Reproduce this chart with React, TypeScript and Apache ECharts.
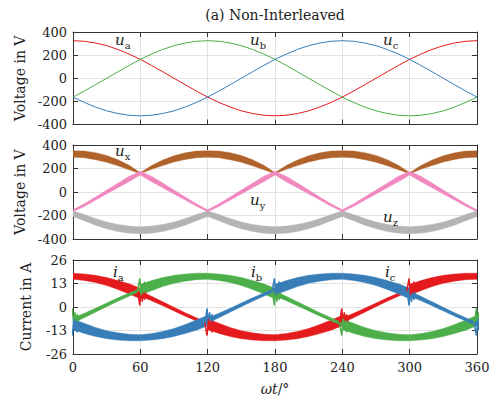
import React, { useEffect, useRef } from "react";
import * as echarts from "echarts";

// ---------- data ----------
const angles = [0,10,20,30,40,50,60,70,80,90,100,110,120,130,140,150,160,170,180,190,200,210,220,230,240,250,260,270,280,290,300,310,320,330,340,350,360];
const xTicks = [0, 60, 120, 180, 240, 300, 360];

// (top) phase voltages in V
const ua = [325,320,305,282,249,209,163,111,56,0,-56,-111,-163,-209,-249,-282,-305,-320,-325,-320,-305,-282,-249,-209,-163,-111,-56,0,56,111,163,209,249,282,305,320,325];
const ub = [-163,-111,-56,0,56,111,163,209,249,282,305,320,325,320,305,282,249,209,163,111,56,0,-56,-111,-163,-209,-249,-282,-305,-320,-325,-320,-305,-282,-249,-209,-163];
const uc = [-163,-209,-249,-282,-305,-320,-325,-320,-305,-282,-249,-209,-163,-111,-56,0,56,111,163,209,249,282,305,320,325,320,305,282,249,209,163,111,56,0,-56,-111,-163];

// (middle) switched voltages: band centre and half width in V
const uxCenter = [323,320,305,282,249,209,160,209,249,282,305,320,323,320,305,282,249,209,160,209,249,282,305,320,323,320,305,282,249,209,160,209,249,282,305,320,323];
const uxHalf = [28,29,30,29,26,19,4,16,24,27,28,28,28,29,30,29,26,19,4,16,24,27,28,28,28,29,30,29,26,19,4,16,24,27,28,28,28];
const uyCenter = [-160,-111,-56,0,56,111,160,111,56,0,-56,-111,-160,-111,-56,0,56,111,160,111,56,0,-56,-111,-160,-111,-56,0,56,111,160,111,56,0,-56,-111,-160];
const uyHalf = [8,12,14,16,19,23,16,24,20,16,13,11,8,12,14,16,19,23,16,24,20,16,13,11,8,12,14,16,19,23,16,24,20,16,13,11,8];
const uzCenter = [-185,-218,-254,-284,-306,-320,-326,-320,-306,-284,-254,-218,-185,-218,-254,-284,-306,-320,-326,-320,-306,-284,-254,-218,-185,-218,-254,-284,-306,-320,-326,-320,-306,-284,-254,-218,-185];
const uzHalf = [24,27,28,29,30,30,30,30,30,29,28,27,24,27,28,29,30,30,30,30,30,29,28,27,24,27,28,29,30,30,30,30,30,29,28,27,24];

// (bottom) phase currents in A: band centres
const iaCenter = [17.0,16.5,15.5,14.1,12.2,10.0,7.5,4.7,1.8,-1.2,-4.1,-6.9,-9.5,-11.8,-13.8,-15.3,-16.3,-16.9,-17.0,-16.5,-15.5,-14.1,-12.2,-10.0,-7.5,-4.7,-1.8,1.2,4.1,6.9,9.5,11.8,13.8,15.3,16.3,16.9,17.0];
const ibCenter = [-7.5,-4.7,-1.8,1.2,4.1,6.9,9.5,11.8,13.8,15.3,16.3,16.9,17.0,16.5,15.5,14.1,12.2,10.0,7.5,4.7,1.8,-1.2,-4.1,-6.9,-9.5,-11.8,-13.8,-15.3,-16.3,-16.9,-17.0,-16.5,-15.5,-14.1,-12.2,-10.0,-7.5];
const icCenter = [-9.5,-11.8,-13.8,-15.3,-16.3,-16.9,-17.0,-16.5,-15.5,-14.1,-12.2,-10.0,-7.5,-4.7,-1.8,1.2,4.1,6.9,9.5,11.8,13.8,15.3,16.3,16.9,17.0,16.5,15.5,14.1,12.2,10.0,7.5,4.7,1.8,-1.2,-4.1,-6.9,-9.5];
// half-width profiles across a 60° segment (A)
const thickIn = [2.9, 2.8, 2.5, 2.2, 2.0, 1.8, 1.7];
const thickOut = [1.7, 1.8, 2.0, 2.2, 2.5, 2.8, 2.9];
const thinBand = [1.4, 1.25, 1.1, 1.0, 0.95, 0.9, 0.85];
const iaLayout = ["out", "thin", "in", "out", "thin", "in"];
const ibLayout = ["thin", "in", "out", "thin", "in", "out"];
const icLayout = ["in", "out", "thin", "in", "out", "thin"];
// commutation transients
const crossAngles = [0, 60, 120, 180, 240, 300, 360];
const crossSigns = [-1, 1, -1, 1, -1, 1, -1];
const crossEnter = ["ic", "ib", "ia", "ic", "ib", "ia", "ic"];
const crossLeave = ["ib", "ia", "ic", "ib", "ia", "ic", "ib"];
const spikeDx = [-2.6, -0.5, 0.7, 1.7, 2.7, 3.7, 4.7, 5.7, 6.8];
const enterMag = [8.6, 15.8, 6.5, 13.0, 7.5, 14.0, 9.5, 13.5, 11.5];
const leaveMag = [9.4, 0.8, 9.8, 3.0, 9.0, 4.0, 8.0, 4.8, 6.5];

// ---------- styling ----------
const FONT = "DejaVu Serif";
const AXIS_COLOR = "#333";
const TEXT_COLOR = "#222";
const GRID_COLOR = "#e2e2e2";
const RED = "#e41a1c";
const GREEN = "#4daf4a";
const BLUE = "#377eb8";
const BROWN = "#b0622b";
const PINK = "#f088bf";
const GRAY = "#b4b4b6";
const phaseColor: Record<string, string> = { ia: RED, ib: GREEN, ic: BLUE };
const phaseCenter: Record<string, number[]> = { ia: iaCenter, ib: ibCenter, ic: icCenter };
const profiles: Record<string, number[]> = { in: thickIn, out: thickOut, thin: thinBand };

type Seg = { xs: number[]; c: number[]; h: number[]; color: string };

function bandSeries(segs: Seg[], axis: number) {
  return {
    type: "custom",
    xAxisIndex: axis,
    yAxisIndex: axis,
    clip: true,
    silent: true,
    z: 2,
    data: segs.map((s) => [s.xs[0], s.c[0]]),
    encode: { x: 0, y: 1 },
    renderItem: (params: any, api: any) => {
      const s = segs[params.dataIndex];
      const top: number[][] = [];
      const bot: number[][] = [];
      for (let k = 0; k < s.xs.length; k++) {
        top.push(api.coord([s.xs[k], s.c[k] + s.h[k]]));
        bot.push(api.coord([s.xs[k], s.c[k] - s.h[k]]));
      }
      bot.reverse();
      return {
        type: "polygon",
        shape: { points: top.concat(bot) },
        style: { fill: s.color, stroke: s.color, lineWidth: 0.4 },
      };
    },
  };
}

function currentSegs(phase: string, layout: string[]): Seg[] {
  return layout.map((p, j) => ({
    xs: angles.slice(6 * j, 6 * j + 7),
    c: phaseCenter[phase].slice(6 * j, 6 * j + 7),
    h: profiles[p],
    color: phaseColor[phase],
  }));
}

function lineSeries(values: number[], color: string, axis: number) {
  return {
    type: "line",
    xAxisIndex: axis,
    yAxisIndex: axis,
    data: angles.map((a, k) => [a, values[k]]),
    symbol: "none",
    lineStyle: { color, width: 1.0 },
    z: 3,
    silent: true,
  };
}

function transientSeries(): any[] {
  const out: any[] = [];
  crossAngles.forEach((c, i) => {
    const s = crossSigns[i];
    out.push({
      type: "line", xAxisIndex: 4, yAxisIndex: 4, symbol: "none", silent: true, z: 4, clip: true,
      data: spikeDx.map((d, k) => [c + d, s * leaveMag[k]]),
      lineStyle: { color: phaseColor[crossLeave[i]], width: 1.5 },
    });
    out.push({
      type: "line", xAxisIndex: 4, yAxisIndex: 4, symbol: "none", silent: true, z: 4, clip: true,
      data: spikeDx.map((d, k) => [c + d, s * enterMag[k]]),
      lineStyle: { color: phaseColor[crossEnter[i]], width: 1.5 },
    });
  });
  return out;
}

const gridTops = [32, 145, 260];
const gridHeights = [92.5, 94, 94];
const yRanges = [
  { min: -400, max: 400, interval: 200, name: "Voltage in V" },
  { min: -400, max: 400, interval: 200, name: "Voltage in V" },
  { min: -26, max: 26, interval: 13, name: "Current in A" },
];

function buildOption() {
  const grid: any[] = [];
  const xAxis: any[] = [];
  const yAxis: any[] = [];
  const lineStyle = { color: AXIS_COLOR, width: 1 };
  const tick = { show: true, inside: true, length: 5, lineStyle };
  for (let i = 0; i < 3; i++) {
    grid.push({ left: 73, right: 26, top: gridTops[i], height: gridHeights[i] });
    xAxis.push({
      type: "value", gridIndex: i, min: 0, max: 360, interval: 60,
      axisLine: { show: true, onZero: false, lineStyle },
      axisTick: tick,
      axisLabel: { show: i === 2, margin: 7, fontFamily: FONT, fontSize: 13, color: TEXT_COLOR,
        customValues: xTicks },
      splitLine: { show: true, lineStyle: { color: GRID_COLOR, width: 1 } },
    });
    xAxis.push({
      type: "value", gridIndex: i, position: "top", min: 0, max: 360, interval: 60,
      axisLine: { show: true, onZero: false, lineStyle },
      axisTick: tick, axisLabel: { show: false }, splitLine: { show: false },
    });
    const r = yRanges[i];
    yAxis.push({
      type: "value", gridIndex: i, min: r.min, max: r.max, interval: r.interval,
      axisLine: { show: true, onZero: false, lineStyle },
      axisTick: tick,
      axisLabel: { margin: 6, fontFamily: FONT, fontSize: 13, color: TEXT_COLOR },
      splitLine: { show: true, lineStyle: { color: GRID_COLOR, width: 1 } },
      name: r.name, nameLocation: "middle", nameGap: 40,
      nameTextStyle: { fontFamily: FONT, fontSize: 14, color: TEXT_COLOR },
    });
    yAxis.push({
      type: "value", gridIndex: i, position: "right", min: r.min, max: r.max, interval: r.interval,
      axisLine: { show: true, onZero: false, lineStyle },
      axisTick: tick, axisLabel: { show: false }, splitLine: { show: false },
    });
  }

  const voltageSegs: Seg[] = [
    { xs: angles, c: uxCenter, h: uxHalf, color: BROWN },
    { xs: angles, c: uzCenter, h: uzHalf, color: GRAY },
    { xs: angles, c: uyCenter, h: uyHalf, color: PINK },
  ];

  const series: any[] = [
    lineSeries(ua, RED, 0),
    lineSeries(ub, GREEN, 0),
    lineSeries(uc, BLUE, 0),
    bandSeries(voltageSegs, 2),
    bandSeries(currentSegs("ia", iaLayout), 4),
    bandSeries(currentSegs("ib", ibLayout), 4),
    bandSeries(currentSegs("ic", icLayout), 4),
    ...transientSeries(),
  ];

  const labelRich = {
    v: { fontFamily: FONT, fontStyle: "italic", fontSize: 15, lineHeight: 20, fill: TEXT_COLOR, color: TEXT_COLOR, verticalAlign: "middle" },
    s: { fontFamily: FONT, fontSize: 10, lineHeight: 12, fill: TEXT_COLOR, color: TEXT_COLOR, verticalAlign: "bottom" },
  };
  const label = (sym: string, sub: string, x: number, y: number) => ({
    type: "text", x, y, z: 10, silent: true,
    style: {
      text: `{v|${sym}}{s|${sub}}`, rich: labelRich,
      textAlign: "left", textVerticalAlign: "middle", align: "left", verticalAlign: "middle",
    },
  });

  const graphic: any[] = [
    {
      type: "text", x: 275, y: 15, silent: true,
      style: {
        text: "(a) Non-Interleaved", fontFamily: FONT, fontSize: 14, fill: TEXT_COLOR,
        textAlign: "center", textVerticalAlign: "middle", align: "center", verticalAlign: "middle",
      },
    },
    label("u", "a", 115, 40), label("u", "b", 250, 40), label("u", "c", 383, 40),
    label("u", "x", 115, 151), label("u", "y", 250, 200), label("u", "z", 383, 217),
    label("i", "a", 113, 272), label("i", "b", 251, 272), label("i", "c", 385, 272),
    {
      type: "text", x: 275, y: 389, silent: true,
      style: {
        text: "{i|ωt}{n|/°}",
        rich: {
          i: { fontFamily: FONT, fontStyle: "italic", fontSize: 14, fill: TEXT_COLOR, color: TEXT_COLOR },
          n: { fontFamily: FONT, fontSize: 14, fill: TEXT_COLOR, color: TEXT_COLOR },
        },
        textAlign: "center", textVerticalAlign: "middle", align: "center", verticalAlign: "middle",
      },
    },
  ];

  return { animation: false, backgroundColor: "#ffffff", grid, xAxis, yAxis, series, graphic };
}

export default function App() {
  const ref = useRef<HTMLDivElement>(null);
  useEffect(() => {
    if (!ref.current) return;
    const chart = echarts.init(ref.current, null, { renderer: "svg" });
    chart.setOption(buildOption() as any);
    return () => chart.dispose();
  }, []);
  return (
    <div
      ref={ref}
      style={{ position: "fixed", left: 0, top: 0, width: "503px", height: "406px", background: "#fff" }}
    />
  );
}
